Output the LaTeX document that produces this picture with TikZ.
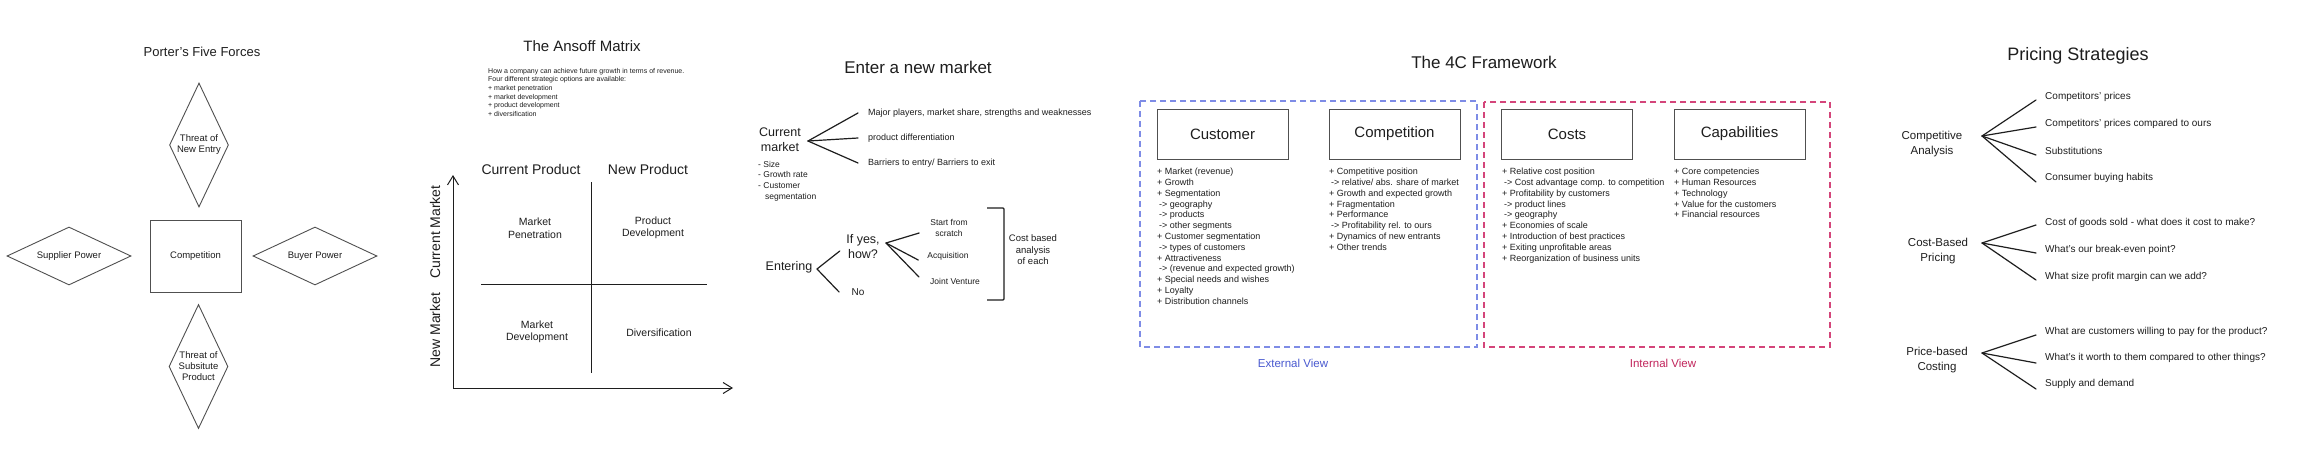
\documentclass[tikz,border=0pt]{standalone}
\usepackage{fontspec}
\setmainfont{Liberation Sans}
\usepackage{xcolor}
\usetikzlibrary{arrows.meta, positioning, shapes.geometric}

\definecolor{ink}{HTML}{1E1E1E}
\definecolor{shapegray}{HTML}{505050}
\definecolor{viewblue}{HTML}{4A5AD0}
\definecolor{viewblueline}{HTML}{7E8CE6}
\definecolor{viewred}{HTML}{C2255C}
\definecolor{viewredline}{HTML}{D4457A}

\begin{document}
\begin{tikzpicture}[x=1pt, y=-1pt,
		title/.style={font=\fontsize{17}{20}\selectfont, text=ink},
		force/.style={draw=shapegray, line width=0.9pt, diamond, inner sep=0pt, align=center, text=ink, font=\fontsize{9.5}{11}\selectfont},
		rivalbox/.style={draw=shapegray, line width=0.9pt, rectangle, minimum width=91, minimum height=72, text=ink, font=\fontsize{9.5}{11}\selectfont},
		note/.style={anchor=north west, inner sep=0pt, align=left, text=ink, font=\fontsize{7}{8.6}\selectfont},
		colhead/.style={text=ink, font=\fontsize{14}{16}\selectfont},
		quad/.style={align=center, text=ink, font=\fontsize{10.5}{12.5}\selectfont},
		axis/.style={draw=ink, line width=1pt, -{Straight Barb[length=9pt, width=11pt]}},
		divider/.style={draw=ink, line width=1pt},
		topic/.style={align=center, text=ink, font=\fontsize{12.5}{15}\selectfont},
		leaf/.style={anchor=west, inner sep=0pt, align=left, text=ink, font=\fontsize{9}{11}\selectfont},
		option/.style={align=center, inner sep=0pt, text=ink, font=\fontsize{8.5}{11}\selectfont},
		branch/.style={draw=ink, line width=1.2pt, line cap=round},
		cbox/.style={draw=shapegray, line width=1pt, rectangle, minimum width=131, minimum height=50, text=ink, font=\fontsize{15}{18}\selectfont},
		clist/.style={anchor=north west, inner sep=0pt, align=left, text=ink, font=\fontsize{9}{10.8}\selectfont},
		extframe/.style={draw=viewblueline, line width=1.3pt, dash pattern=on 6pt off 4pt},
		intframe/.style={draw=viewredline, line width=1.3pt, dash pattern=on 6pt off 4pt},
		viewlbl/.style={font=\fontsize{11.5}{14}\selectfont},
		pricelabel/.style={align=center, text=ink, font=\fontsize{11.5}{15}\selectfont},
		priceleaf/.style={anchor=west, inner sep=0pt, text=ink, font=\fontsize{10}{12}\selectfont}
	]

	\fill[white] (0,0) rectangle (2310,471);
	\useasboundingbox (0,0) rectangle (2310,471);

	% Porter's five forces
	\node[title, font=\fontsize{13}{16}\selectfont] (porter) at (202,52) {Porter's Five Forces};
	\node[force, aspect=0.48, minimum width=59, minimum height=124] (newentry) at (199,145) {Threat of\\New Entry};
	\node[rivalbox] (rivalry) at (195.5,256) {Competition};
	\node[force, aspect=2, minimum width=124, minimum height=58] (supplier) at (69,256) {Supplier Power};
	\node[force, aspect=2, minimum width=124, minimum height=58] (buyer) at (315,256) {Buyer Power};
	\node[force, aspect=0.48, minimum width=59, minimum height=124] (substitute) at (198.5,366.5) {Threat of\\Subsitute\\Product};

	% The Ansoff matrix
	\node[title, font=\fontsize{15}{18}\selectfont] (ansoff) at (582,46) {The Ansoff Matrix};
	\node[note] (ansoffnote) at (488,68) {How a company can achieve future growth in terms of revenue.\\
		Four different strategic options are available:\\
		+ market penetration\\
		+ market development\\
		+ product development\\
		+ diversification};

	\coordinate (axisorigin) at (453,388);
	\coordinate (axistop) at (453,175);
	\coordinate (axisright) at (733,388);
	\draw[axis] (axisorigin) -- (axistop);
	\draw[axis] (axisorigin) -- (axisright);
	\draw[divider] (591,182) -- (591,373);
	\draw[divider] (481,284) -- (707,284);

	\node[colhead] (curproduct) at (531,169) {Current Product};
	\node[colhead] (newproduct) at (648,169) {New Product};
	\node[colhead, rotate=90] (curmarket) at (435,232) {Current Market};
	\node[colhead, rotate=90] (newmarket) at (435,330) {New Market};

	\node[quad] (penetration) at (535,228) {Market\\Penetration};
	\node[quad] (proddev) at (653,228) {Product\\Development};
	\node[quad] (marketdev) at (537,332) {Market\\Development};
	\node[quad] (diversify) at (659,333) {Diversification};

	% Enter a new market
	\node[title] (enter) at (918,67) {Enter a new market};
	\node[topic] (current) at (780,140) {Current\\market};
	\coordinate (currentfork) at (808,141);
	\node[leaf] (players) at (868,113) {Major players, market share, strengths and weaknesses};
	\node[leaf] (differ) at (868,138) {product differentiation};
	\node[leaf] (barriers) at (868,163) {Barriers to entry/ Barriers to exit};
	\draw[branch] (currentfork) -- ([xshift=-10pt]players.west);
	\draw[branch] (currentfork) -- ([xshift=-10pt]differ.west);
	\draw[branch] (currentfork) -- ([xshift=-10pt]barriers.west);
	\node[note, font=\fontsize{8.5}{10.6}\selectfont] (marketfacts) at (758,161) {- Size\\- Growth rate\\- Customer\\\hspace*{7pt}segmentation};

	\node[topic] (entering) at (789,267) {Entering};
	\coordinate (enterfork) at (817,269);
	\node[topic] (ifyes) at (863,247) {If yes,\\how?};
	\node[topic, font=\fontsize{10}{12}\selectfont] (no) at (858,292) {No};
	\draw[branch] (enterfork) -- ([xshift=-3pt, yshift=-4pt]ifyes.west);
	\draw[branch] (enterfork) -- ([xshift=-9pt]no.west);

	\coordinate (howfork) at (886,243);
	\node[option] (scratch) at (949,228) {Start from\\scratch};
	\node[option] (acquire) at (948,256) {Acquisition};
	\node[option] (venture) at (955,281) {Joint Venture};
	\draw[branch] (howfork) -- ([xshift=-11pt, yshift=-5pt]scratch.west);
	\draw[branch] (howfork) -- ([xshift=-9pt, yshift=-4pt]acquire.west);
	\draw[branch] (howfork) -- ([xshift=-11pt, yshift=4pt]venture.west);
	\draw[line width=1.2pt, draw=ink, rounded corners=1pt] (987,208) -- (1004,208) -- (1004,300) -- (987,300);
	\node[option, font=\fontsize{9.5}{11.5}\selectfont] (costbased) at (1033,250) {Cost based\\analysis\\of each};

	% The 4C framework
	\node[title] (fourc) at (1484,62) {The 4C Framework};
	\draw[extframe] (1140,101) rectangle (1477,347);
	\draw[intframe] (1484,102) rectangle (1830,347);

	\node[cbox] (customer) at (1222.5,134) {Customer};
	\node[cbox] (competition) at (1394.5,134) {Competition};
	\node[cbox] (costs) at (1567,134) {Costs};
	\node[cbox] (capabilities) at (1739.5,134) {Capabilities};

	\node[clist] (customerlist) at (1157,168) {+ Market (revenue)\\
		+ Growth\\
		+ Segmentation\\
		\hspace*{2pt}-> geography\\
		\hspace*{2pt}-> products\\
		\hspace*{2pt}-> other segments\\
		+ Customer segmentation\\
		\hspace*{2pt}-> types of customers\\
		+ Attractiveness\\
		\hspace*{2pt}-> (revenue and expected growth)\\
		+ Special needs and wishes\\
		+ Loyalty\\
		+ Distribution channels};
	\node[clist] (competitionlist) at (1329,168) {+ Competitive position\\
		\hspace*{2pt}-> relative/ abs. share of market\\
		+ Growth and expected growth\\
		+ Fragmentation\\
		+ Performance\\
		\hspace*{2pt}-> Profitability rel. to ours\\
		+ Dynamics of new entrants\\
		+ Other trends};
	\node[clist] (costslist) at (1502,168) {+ Relative cost position\\
		\hspace*{2pt}-> Cost advantage comp. to competition\\
		+ Profitability by customers\\
		\hspace*{2pt}-> product lines\\
		\hspace*{2pt}-> geography\\
		+ Economies of scale\\
		+ Introduction of best practices\\
		+ Exiting unprofitable areas\\
		+ Reorganization of business units};
	\node[clist] (capabilitylist) at (1674,168) {+ Core competencies\\
		+ Human Resources\\
		+ Technology\\
		+ Value for the customers\\
		+ Financial resources};

	\node[viewlbl, text=viewblue] (external) at (1293,363) {External View};
	\node[viewlbl, text=viewred] (internal) at (1663,363) {Internal View};

	% Pricing strategies
	\node[title, font=\fontsize{18}{21}\selectfont] (pricing) at (2078,56) {Pricing Strategies};

	\node[pricelabel] (compan) at (1932,144) {Competitive\\Analysis};
	\coordinate (compfork) at (1982,136);
	\node[priceleaf] (rivalprice) at (2045,97) {Competitors' prices};
	\node[priceleaf] (rivalours) at (2045,124) {Competitors' prices compared to ours};
	\node[priceleaf] (substitution) at (2045,151) {Substitutions};
	\node[priceleaf] (habits) at (2045,178) {Consumer buying habits};
	\draw[branch] (compfork) -- ([xshift=-9pt, yshift=-3pt]rivalprice.west);
	\draw[branch] (compfork) -- ([xshift=-9pt, yshift=-3pt]rivalours.west);
	\draw[branch] (compfork) -- ([xshift=-9pt, yshift=-4pt]substitution.west);
	\draw[branch] (compfork) -- ([xshift=-9pt, yshift=-4pt]habits.west);

	\node[pricelabel] (costpricing) at (1938,251) {Cost-Based\\Pricing};
	\coordinate (costfork) at (1982,243);
	\node[priceleaf] (goods) at (2045,223) {Cost of goods sold - what does it cost to make?};
	\node[priceleaf] (breakeven) at (2045,250) {What's our break-even point?};
	\node[priceleaf] (margin) at (2045,277) {What size profit margin can we add?};
	\draw[branch] (costfork) -- ([xshift=-9pt, yshift=-2pt]goods.west);
	\draw[branch] (costfork) -- ([xshift=-9pt, yshift=-3pt]breakeven.west);
	\draw[branch] (costfork) -- ([xshift=-9pt, yshift=-3pt]margin.west);

	\node[pricelabel] (pricecosting) at (1937,360) {Price-based\\Costing};
	\coordinate (pricefork) at (1982,353);
	\node[priceleaf] (willing) at (2045,332) {What are customers willing to pay for the product?};
	\node[priceleaf] (worth) at (2045,358) {What's it worth to them compared to other things?};
	\node[priceleaf] (supply) at (2045,384) {Supply and demand};
	\draw[branch] (pricefork) -- ([xshift=-9pt, yshift=-3pt]willing.west);
	\draw[branch] (pricefork) -- ([xshift=-9pt, yshift=-5pt]worth.west);
	\draw[branch] (pricefork) -- ([xshift=-9pt, yshift=-5pt]supply.west);

\end{tikzpicture}
\end{document}
